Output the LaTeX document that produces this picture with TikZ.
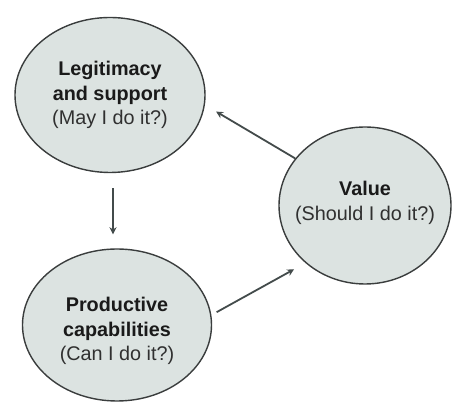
\documentclass[tikz,border=0pt]{standalone}
\usepackage{fontspec}
\setmainfont{Liberation Sans}
\usetikzlibrary{shapes.geometric,arrows.meta}
\definecolor{bubblefill}{HTML}{DCE3E1}
\definecolor{bubbleedge}{HTML}{3A3D3D}
\definecolor{arrowgray}{HTML}{434B4B}
\definecolor{textdark}{HTML}{1A1A1A}
\definecolor{textsoft}{HTML}{303030}
\tikzset{
  bubble/.style={ellipse, draw=bubbleedge, fill=bubblefill, line width=1.4pt,
    inner sep=0pt},
  caption/.style={align=center, text=textsoft, inner sep=0pt,
    font=\fontsize{19.8}{24.8}\selectfont},
  flow/.style={draw=arrowgray, line width=1.8pt,
    -{Stealth[length=7pt,width=7pt]}},
}
\newcommand{\headline}[1]{\textcolor{textdark}{\textbf{#1}}}
\begin{document}
\begin{tikzpicture}[x=1pt,y=1pt]
  \useasboundingbox (0,0) rectangle (452,403);
  % the three questions
  \node[bubble, minimum width=190pt, minimum height=155pt] (legit) at (110,308) {};
  \node[caption] (legittext) at (legit.center)
    {\headline{Legitimacy}\\\headline{and support}\\(May I do it?)};
  \node[bubble, minimum width=172pt, minimum height=157pt] (value) at (365,197.5) {};
  \node[caption] (valuetext) at ([yshift=3pt]value.center)
    {\headline{Value}\\(Should I do it?)};
  \node[bubble, minimum width=189pt, minimum height=152pt] (prod) at (117,78) {};
  \node[caption] (prodtext) at ([yshift=-6pt]prod.center)
    {\headline{Productive}\\\headline{capabilities}\\(Can I do it?)};
  % arrows between them
  \coordinate (vx) at (113,0);
  \draw[flow, shorten <=15pt, shorten >=14pt] (vx |- legit.south) -- (vx |- prod.north);
  \draw[flow, shorten >=13pt] (value.146) -- (legit.-6);
  \draw[flow, shorten <=6pt, shorten >=13pt] (prod.6) -- (value.224);
\end{tikzpicture}
\end{document}
